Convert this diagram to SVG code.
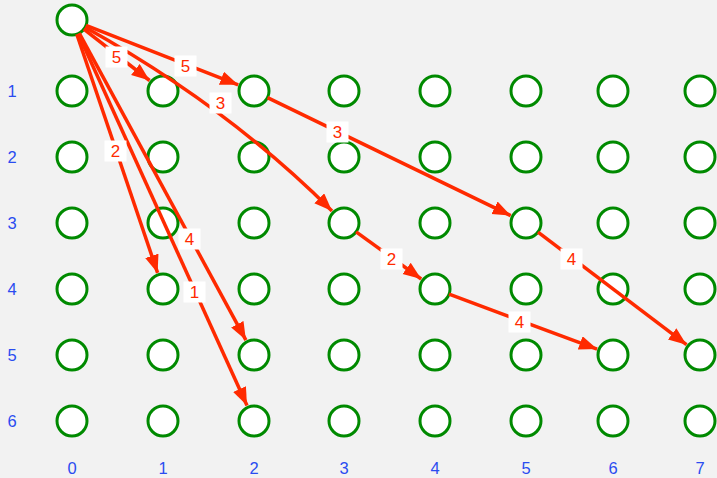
<svg xmlns="http://www.w3.org/2000/svg" width="717" height="478" viewBox="0 0 717 478">
<style>
.n{fill:#fff;stroke:#008a00;stroke-width:3}
.e{fill:none;stroke:#ff2a00;stroke-width:3.5;marker-end:url(#ah)}
.lb{fill:#fff}
.lt{font-family:"Liberation Sans",Arial,sans-serif;font-size:17px;fill:#ff2a00;text-anchor:middle}
.ax{font-family:"Liberation Sans",Arial,sans-serif;font-size:16.5px;fill:#2a4cf0;text-anchor:middle}
</style>
<defs>
<marker id="ah" markerUnits="userSpaceOnUse" markerWidth="20" markerHeight="16" refX="18" refY="7" orient="auto">
<path d="M0,0 L18,7 L0,14 z" fill="#ff2a00"/>
</marker>
</defs>
<rect width="717" height="478" fill="#f2f2f2"/>
<g id="axes">
<text class="ax" x="12" y="97">1</text>
<text class="ax" x="12" y="163">2</text>
<text class="ax" x="12" y="229">3</text>
<text class="ax" x="12" y="295">4</text>
<text class="ax" x="12" y="361">5</text>
<text class="ax" x="12" y="427">6</text>
<text class="ax" x="72" y="474">0</text>
<text class="ax" x="163" y="474">1</text>
<text class="ax" x="254" y="474">2</text>
<text class="ax" x="344" y="474">3</text>
<text class="ax" x="435" y="474">4</text>
<text class="ax" x="526" y="474">5</text>
<text class="ax" x="613" y="474">6</text>
<text class="ax" x="700" y="474">7</text>
</g>
<g id="nodes">
<g id="root"><circle class="n" cx="72" cy="20" r="15"/></g>
<g id="r1">
<circle class="n" cx="72" cy="91" r="15"/><circle class="n" cx="163" cy="91" r="15"/><circle class="n" cx="254" cy="91" r="15"/><circle class="n" cx="344" cy="91" r="15"/><circle class="n" cx="435" cy="91" r="15"/><circle class="n" cx="526" cy="91" r="15"/><circle class="n" cx="613" cy="91" r="15"/><circle class="n" cx="700" cy="91" r="15"/>
</g>
<g id="r2">
<circle class="n" cx="72" cy="157" r="15"/><circle class="n" cx="163" cy="157" r="15"/><circle class="n" cx="254" cy="157" r="15"/><circle class="n" cx="344" cy="157" r="15"/><circle class="n" cx="435" cy="157" r="15"/><circle class="n" cx="526" cy="157" r="15"/><circle class="n" cx="613" cy="157" r="15"/><circle class="n" cx="700" cy="157" r="15"/>
</g>
<g id="r3">
<circle class="n" cx="72" cy="223" r="15"/><circle class="n" cx="163" cy="223" r="15"/><circle class="n" cx="254" cy="223" r="15"/><circle class="n" cx="344" cy="223" r="15"/><circle class="n" cx="435" cy="223" r="15"/><circle class="n" cx="526" cy="223" r="15"/><circle class="n" cx="613" cy="223" r="15"/><circle class="n" cx="700" cy="223" r="15"/>
</g>
<g id="r4">
<circle class="n" cx="72" cy="289" r="15"/><circle class="n" cx="163" cy="289" r="15"/><circle class="n" cx="254" cy="289" r="15"/><circle class="n" cx="344" cy="289" r="15"/><circle class="n" cx="435" cy="289" r="15"/><circle class="n" cx="526" cy="289" r="15"/><circle class="n" cx="613" cy="289" r="15"/><circle class="n" cx="700" cy="289" r="15"/>
</g>
<g id="r5">
<circle class="n" cx="72" cy="355" r="15"/><circle class="n" cx="163" cy="355" r="15"/><circle class="n" cx="254" cy="355" r="15"/><circle class="n" cx="344" cy="355" r="15"/><circle class="n" cx="435" cy="355" r="15"/><circle class="n" cx="526" cy="355" r="15"/><circle class="n" cx="613" cy="355" r="15"/><circle class="n" cx="700" cy="355" r="15"/>
</g>
<g id="r6">
<circle class="n" cx="72" cy="421" r="15"/><circle class="n" cx="163" cy="421" r="15"/><circle class="n" cx="254" cy="421" r="15"/><circle class="n" cx="344" cy="421" r="15"/><circle class="n" cx="435" cy="421" r="15"/><circle class="n" cx="526" cy="421" r="15"/><circle class="n" cx="613" cy="421" r="15"/><circle class="n" cx="700" cy="421" r="15"/>
</g>
</g>
<g id="connectors">
<line class="e" x1="83.8" y1="29.2" x2="149.6" y2="80.5"/>
<line class="e" x1="86" y1="25.4" x2="238.2" y2="84.8"/>
<path class="e" d="M85.1,27.3 Q228,107 332,211"/>
<line class="e" x1="267.5" y1="97.6" x2="510.7" y2="215.6"/>
<line class="e" x1="76.8" y1="34.2" x2="157.6" y2="272.9"/>
<line class="e" x1="79.2" y1="33.2" x2="245.9" y2="340.1"/>
<line class="e" x1="78.2" y1="33.7" x2="247" y2="405.5"/>
<line class="e" x1="356.1" y1="231.8" x2="421.2" y2="279"/>
<line class="e" x1="449.1" y1="294.2" x2="597.1" y2="349.1"/>
<line class="e" x1="538" y1="232.1" x2="686.5" y2="344.7"/>
</g>
<g id="labels">
<rect class="lb" x="105.5" y="46.5" width="22" height="21"/><text class="lt" x="116.5" y="63">5</text>
<rect class="lb" x="174.5" y="55.5" width="22" height="21"/><text class="lt" x="185.5" y="72">5</text>
<rect class="lb" x="209.5" y="92.5" width="22" height="21"/><text class="lt" x="220.5" y="109">3</text>
<rect class="lb" x="326.5" y="121.5" width="22" height="21"/><text class="lt" x="337.5" y="138">3</text>
<rect class="lb" x="104.5" y="140.5" width="22" height="21"/><text class="lt" x="115.5" y="157">2</text>
<rect class="lb" x="178.5" y="228.5" width="22" height="21"/><text class="lt" x="189.5" y="245">4</text>
<rect class="lb" x="183.5" y="281.5" width="22" height="21"/><text class="lt" x="194.5" y="298">1</text>
<rect class="lb" x="380.5" y="248.5" width="22" height="21"/><text class="lt" x="391.5" y="265">2</text>
<rect class="lb" x="508.5" y="311.5" width="22" height="21"/><text class="lt" x="519.5" y="328">4</text>
<rect class="lb" x="560.5" y="248.5" width="22" height="21"/><text class="lt" x="571.5" y="265">4</text>
</g>
</svg>
